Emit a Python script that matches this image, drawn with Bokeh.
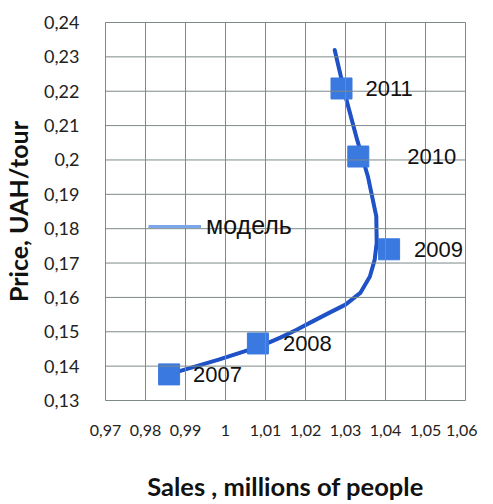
from bokeh.plotting import figure
from bokeh.models import (ColumnDataSource, LabelSet, Legend, LegendItem, FixedTicker,
                          Range1d, Span)
from bokeh.core.properties import value
from bokeh.embed import file_html
from bokeh.resources import INLINE

# ---- data ----
years = ["2007", "2008", "2009", "2010", "2011"]
sales = [0.9859, 1.0081, 1.0409, 1.0332, 1.0290]
price = [0.1376, 0.1466, 0.1740, 0.2010, 0.2208]

model_sales = [0.9866, 0.9983, 1.0088, 1.0137, 1.0178, 1.0219, 1.0259, 1.0300,
               1.0337, 1.0361, 1.0373, 1.0378, 1.0377, 1.0356, 1.0329, 1.0300, 1.0273]
model_price = [0.1379, 0.1419, 0.1458, 0.1483, 0.1506, 0.1531, 0.1555, 0.1579,
               0.1613, 0.1661, 0.1710, 0.1759, 0.1836, 0.1952, 0.2059, 0.2185, 0.2320]

x_ticks = [0.97, 0.98, 0.99, 1.00, 1.01, 1.02, 1.03, 1.04, 1.05, 1.06]
x_tick_labels = ["0,97", "0,98", "0,99", "1", "1,01", "1,02", "1,03", "1,04", "1,05", "1,06"]
y_ticks = [0.13, 0.14, 0.15, 0.16, 0.17, 0.18, 0.19, 0.20, 0.21, 0.22, 0.23, 0.24]
y_tick_labels = ["0,13", "0,14", "0,15", "0,16", "0,17", "0,18", "0,19", "0,2", "0,21", "0,22", "0,23", "0,24"]

legend_label = "модель"
x_title = "Sales , millions of people"
y_title = "Price, UAH/tour"

# label offsets (style)
label_dx = [24, 25, 25, 49, 24]

GRID = "#7d8a8a"

p = figure(width=477, height=504, output_backend="svg", toolbar_location=None,
           x_range=Range1d(0.97, 1.06), y_range=Range1d(0.13, 0.24),
           min_border_left=96, min_border_right=12, min_border_top=22, min_border_bottom=104)

p.background_fill_color = "white"
p.border_fill_color = "white"
p.outline_line_color = GRID
p.outline_line_width = 1
p.grid.visible = False

# grid lines at the tick values
for t in x_ticks:
    p.add_layout(Span(location=t, dimension="height", line_color=GRID, line_width=1))
for t in y_ticks:
    p.add_layout(Span(location=t, dimension="width", line_color=GRID, line_width=1))

p.xaxis.ticker = FixedTicker(ticks=x_ticks)
p.yaxis.ticker = FixedTicker(ticks=y_ticks)
p.xaxis.major_label_overrides = {t: l for t, l in zip(x_ticks, x_tick_labels)}
p.yaxis.major_label_overrides = {t: l for t, l in zip(y_ticks, y_tick_labels)}

for ax in (p.xaxis, p.yaxis):
    ax.axis_line_color = None
    ax.major_tick_line_color = None
    ax.minor_tick_line_color = None
    ax.major_label_text_font = "Lato"
    ax.major_label_text_color = "#222222"
    ax.axis_label_text_font = "Lato"
    ax.axis_label_text_font_style = "bold"
    ax.axis_label_text_color = "#111111"

p.yaxis.major_label_text_font_size = "18px"
p.yaxis.major_label_standoff = 20
p.yaxis.axis_label = y_title
p.yaxis.axis_label_standoff = 8
p.yaxis.axis_label_text_font_size = "25px"

p.xaxis.major_label_text_font_size = "16px"
p.xaxis.major_label_standoff = 18
p.xaxis.axis_label = x_title
p.xaxis.axis_label_standoff = 32
p.xaxis.axis_label_text_font_size = "25.5px"

# legend key renderer (light blue), hidden under the model curve
key = p.line(model_sales, model_price, line_color="#7aa6ec", line_width=3)

# model curve
p.line(model_sales, model_price, line_color="#1f52c6", line_width=4, line_join="round", line_cap="round")

# points
src = ColumnDataSource(dict(x=sales, y=price, year=years, dx=label_dx))
p.scatter("x", "y", source=src, marker="square", size=21, fill_color="#3a79e0", line_color="#3a79e0")

labels = LabelSet(x="x", y="y", text="year", source=src, x_offset="dx", y_offset=0,
                  text_font=value("Liberation Sans"), text_font_size="22px",
                  text_baseline="middle", text_align="left", text_color="#111111")
p.add_layout(labels)

legend = Legend(items=[LegendItem(label=legend_label, renderers=[key])],
                location=(43, 160), orientation="vertical",
                glyph_width=53, glyph_height=24, label_height=24, label_standoff=5,
                padding=0, margin=0, spacing=0,
                label_text_font="Liberation Sans", label_text_font_size="25px",
                label_text_color="#111111", label_text_baseline="middle",
                border_line_color=None, background_fill_alpha=0)
p.add_layout(legend, "center")

open("out.html", "w").write(file_html(p, INLINE))
